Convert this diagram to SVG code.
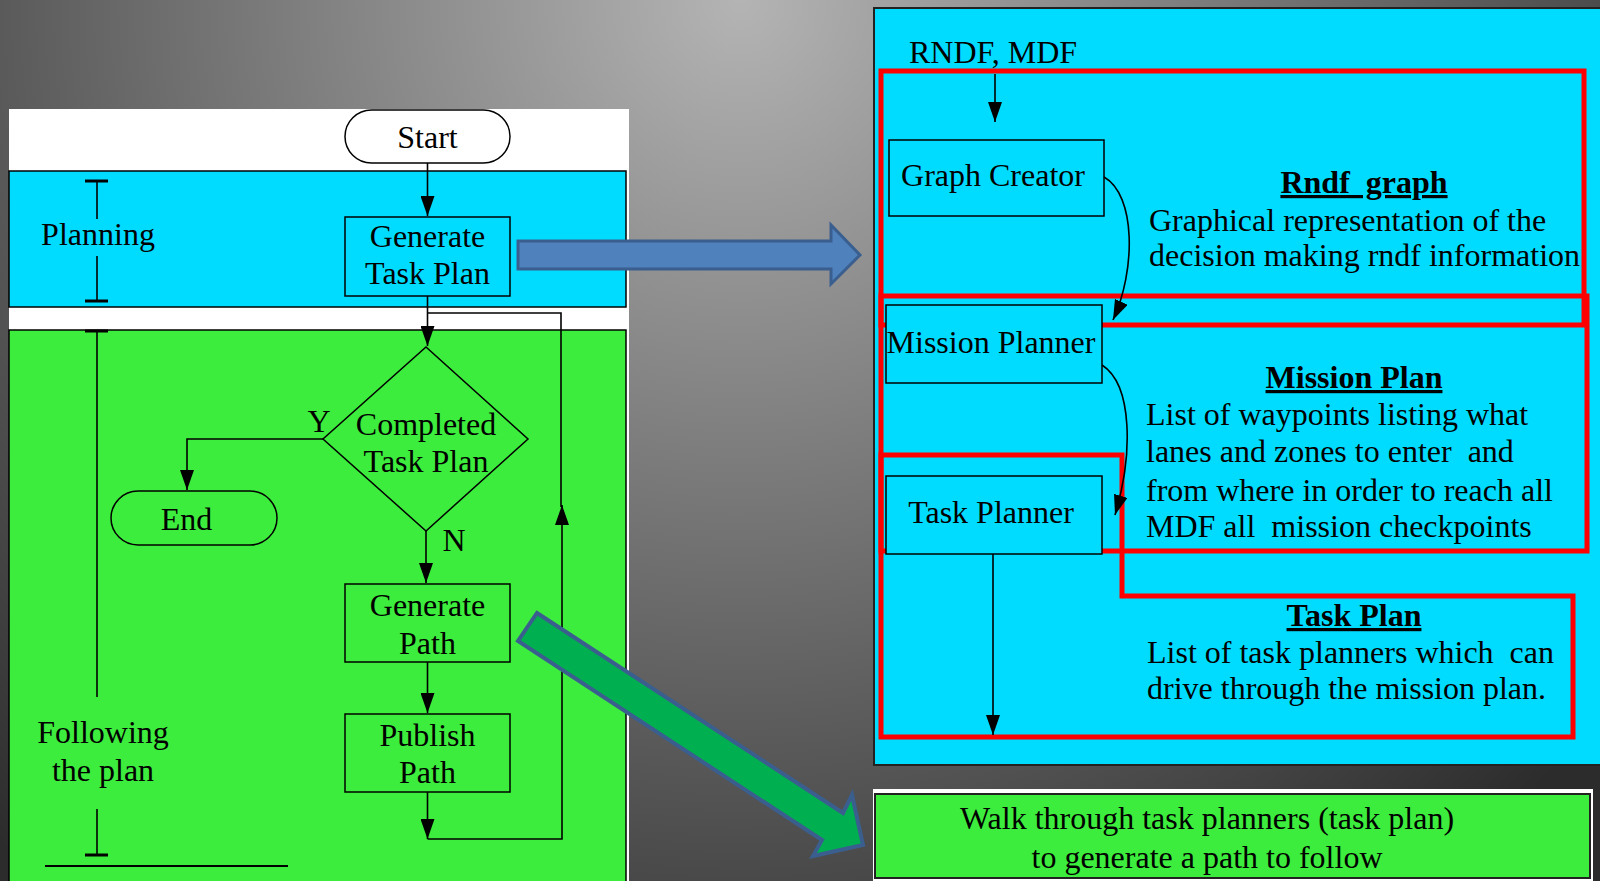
<svg xmlns="http://www.w3.org/2000/svg" width="1600" height="881" viewBox="0 0 1600 881">
<defs>
<radialGradient id="bg" gradientUnits="userSpaceOnUse" cx="740" cy="0" r="1120">
<stop offset="0" stop-color="#b4b4b4"/>
<stop offset="1" stop-color="#2c2c2c"/>
</radialGradient>
<marker id="ah" viewBox="0 0 20 14" refX="20" refY="7" markerWidth="20" markerHeight="14" orient="auto" markerUnits="userSpaceOnUse">
<path d="M0,0 L20,7 L0,14 Z" fill="#000"/>
</marker>
<style>
.t{font-family:"Liberation Serif","Times New Roman",serif;font-size:32px;fill:#000}
.c{text-anchor:middle}
.b{font-weight:bold;text-decoration:underline}
.pre{white-space:pre}
.box{stroke:#000;stroke-width:1.5}
.ln{fill:none;stroke:#000;stroke-width:1.6}
.red{fill:none;stroke:#ff0000;stroke-width:5}
.cy{fill:#00dcff}
.gr{fill:#3ded3d}
</style>
</defs>
<rect x="0" y="0" width="1600" height="881" fill="url(#bg)"/>

<g id="left-panel">
<rect x="9" y="109" width="620" height="780" fill="#ffffff"/>
<rect x="9" y="171" width="617" height="136" class="cy box"/>
<rect x="9" y="330" width="617" height="560" class="gr box"/>
</g>

<g id="planning-label">
<line x1="97" y1="181" x2="97" y2="219" class="ln"/>
<line x1="97" y1="256" x2="97" y2="301" class="ln"/>
<line x1="85" y1="181" x2="108" y2="181" stroke="#000" stroke-width="3"/>
<line x1="85" y1="301" x2="108" y2="301" stroke="#000" stroke-width="3"/>
<text x="98" y="245" class="t c">Planning</text>
</g>

<g id="following-label">
<line x1="97" y1="331" x2="97" y2="697" class="ln"/>
<line x1="97" y1="809" x2="97" y2="855" class="ln"/>
<line x1="85" y1="331" x2="108" y2="331" stroke="#000" stroke-width="3"/>
<line x1="85" y1="855" x2="108" y2="855" stroke="#000" stroke-width="3"/>
<line x1="45" y1="866" x2="288" y2="866" stroke="#000" stroke-width="2"/>
<text x="103" y="743" class="t c">Following</text>
<text x="103" y="781" class="t c">the plan</text>
</g>

<g id="start">
<rect x="345" y="110" width="165" height="53" rx="26.5" fill="#fff" class="box"/>
<text x="427.5" y="148" class="t c">Start</text>
</g>

<g id="generate-task-plan">
<rect x="345" y="217" width="165" height="79" class="cy box"/>
<text x="427.5" y="247" class="t c">Generate</text>
<text x="427.5" y="284" class="t c">Task Plan</text>
</g>

<g id="completed-task-plan">
<polygon points="426,347 528,439 426,531 323,439" class="gr box"/>
<text x="426" y="435" class="t c">Completed</text>
<text x="426" y="472" class="t c">Task Plan</text>
<text x="319" y="432" class="t c">Y</text>
<text x="454" y="551" class="t c">N</text>
</g>

<g id="end">
<rect x="111" y="491" width="166" height="54" rx="27" class="gr box"/>
<text x="186.5" y="530" class="t c">End</text>
</g>

<g id="generate-path">
<rect x="345" y="584" width="165" height="78" class="gr box"/>
<text x="427.5" y="616" class="t c">Generate</text>
<text x="427.5" y="654" class="t c">Path</text>
</g>

<g id="publish-path">
<rect x="345" y="714" width="165" height="78" class="gr box"/>
<text x="427.5" y="746" class="t c">Publish</text>
<text x="427.5" y="783" class="t c">Path</text>
</g>

<g id="right-panel">
<rect x="874" y="8" width="740" height="757" class="cy" stroke="#222" stroke-width="2"/>
</g>

<g id="rndf-graph-region">
<rect x="881" y="71" width="703" height="254" class="red"/>
<text x="1364" y="193" class="t c b pre">Rndf  graph</text>
<text x="1149" y="231" class="t">Graphical representation of the</text>
<text x="1149" y="266" class="t">decision making rndf information</text>
</g>

<g id="mission-plan-region">
<rect x="881" y="296" width="706" height="255" class="red"/>
<text x="1354" y="388" class="t c b">Mission Plan</text>
<text x="1146" y="425" class="t">List of waypoints listing what</text>
<text x="1146" y="462" class="t pre">lanes and zones to enter  and</text>
<text x="1146" y="501" class="t">from where in order to reach all</text>
<text x="1146" y="537" class="t pre">MDF all  mission checkpoints</text>
</g>

<g id="task-plan-region">
<polygon points="881,455 1122,455 1122,596 1573,596 1573,737 881,737" class="red"/>
<text x="1354" y="626" class="t c b">Task Plan</text>
<text x="1147" y="663" class="t pre">List of task planners which  can</text>
<text x="1147" y="699" class="t">drive through the mission plan.</text>
</g>

<g id="rndf-mdf">
<text x="909" y="63" class="t">RNDF, MDF</text>
</g>

<g id="graph-creator">
<rect x="889" y="140" width="215" height="76" class="cy box"/>
<text x="993" y="186" class="t c">Graph Creator</text>
</g>

<g id="mission-planner">
<rect x="886" y="305" width="216" height="78" class="cy box"/>
<text x="991" y="353" class="t c">Mission Planner</text>
</g>

<g id="task-planner">
<rect x="886" y="476" width="216" height="78" class="cy box"/>
<text x="991" y="523" class="t c">Task Planner</text>
</g>

<g id="walk-through">
<rect x="873" y="789" width="720" height="100" fill="#ffffff"/>
<rect x="875" y="794" width="715" height="84" class="gr" stroke="#222" stroke-width="2"/>
<text x="1207" y="829" class="t c">Walk through task planners (task plan)</text>
<text x="1207" y="868" class="t c">to generate a path to follow</text>
</g>

<g id="connectors">
<path d="M427.5,163 V216" class="ln" marker-end="url(#ah)"/>
<path d="M427.5,296 V346" class="ln" marker-end="url(#ah)"/>
<path d="M427.5,313 H561 V507" class="ln"/>
<path d="M427.5,792 V839" class="ln" marker-end="url(#ah)"/>
<path d="M427.5,839 H562 V505" class="ln" marker-end="url(#ah)"/>
<path d="M323,439 H187 V490" class="ln" marker-end="url(#ah)"/>
<path d="M426,531 V583" class="ln" marker-end="url(#ah)"/>
<path d="M427.5,662 V713" class="ln" marker-end="url(#ah)"/>
<path d="M995,74 V122" class="ln" marker-end="url(#ah)"/>
<path d="M1104,177 C1136,195 1136,270 1113,320" class="ln" marker-end="url(#ah)"/>
<path d="M1102,365 C1133,385 1133,455 1115,515" class="ln" marker-end="url(#ah)"/>
<path d="M993,554 V735" class="ln" marker-end="url(#ah)"/>
<polygon points="518,241 831,241 831,225 860,255 831,284 831,269 518,269" fill="#4f81bd" stroke="#3a5f8f" stroke-width="3"/>
<polygon points="537,613 843,813 852,795 863,845 813,856 822,840 518,641" fill="#00b050" stroke="#3a5f8f" stroke-width="4"/>
</g>
</svg>
